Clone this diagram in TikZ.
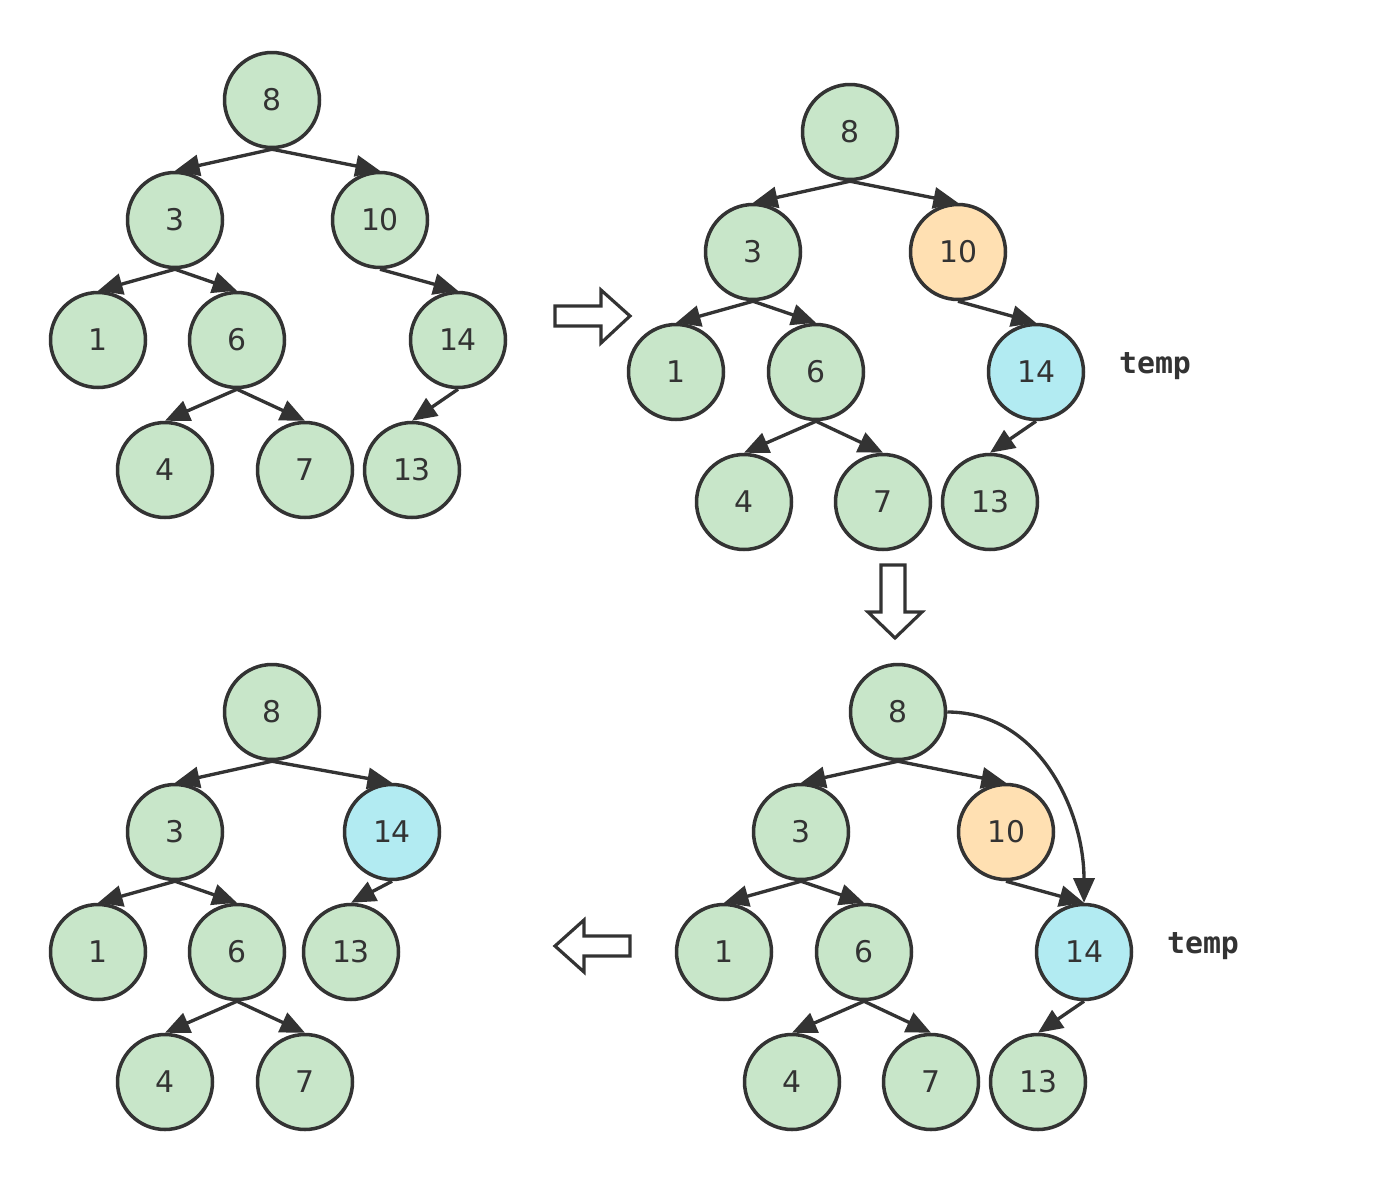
\documentclass[tikz,border=0pt]{standalone}
\usepackage{fontspec}
\setmainfont{DejaVu Sans}
\setmonofont{DejaVu Sans Mono}
\usetikzlibrary{arrows.meta}

\definecolor{nodegreen}{HTML}{C8E6C9}
\definecolor{nodeorange}{HTML}{FFE0B2}
\definecolor{nodecyan}{HTML}{B2EBF2}
\definecolor{inkgray}{HTML}{333333}

\tikzset{
  tnode/.style={circle, draw=inkgray, line width=2pt, fill=nodegreen,
    minimum size=1.9cm, inner sep=0pt, text=inkgray,
    font=\fontsize{17}{19}\selectfont},
  edge/.style={draw=inkgray, line width=1.9pt,
    -{Triangle[length=14pt, width=12pt]}},
  blockarrow/.style={draw=inkgray, line width=1.8pt, fill=white, line join=miter},
  templabel/.style={text=inkgray, font=\ttfamily\bfseries\fontsize{17}{20}\selectfont}
}

\begin{document}
\begin{tikzpicture}[x=0.02cm, y=-0.02cm]
\useasboundingbox (0,0) rectangle (1373,1180);

% Tree 1: starting tree
\foreach \n/\x/\y/\c in {8/272/100/nodegreen, 3/175/220/nodegreen, 10/380/220/nodegreen,
    1/98/340/nodegreen, 6/237/340/nodegreen, 14/458/340/nodegreen,
    4/165/470/nodegreen, 7/305/470/nodegreen, 13/412/470/nodegreen} {
    \node[tnode, fill=\c] (a\n) at (\x,\y) {\n};
}
\foreach \p/\q in {8/3, 8/10, 3/1, 3/6, 6/4, 6/7, 10/14, 14/13} {
    \draw[edge] (a\p.south) -- (a\q.north);
}

% Tree 2: find successor
\foreach \n/\x/\y/\c in {8/850/132/nodegreen, 3/753/252/nodegreen, 10/958/252/nodeorange,
    1/676/372/nodegreen, 6/816/372/nodegreen, 14/1036/372/nodecyan,
    4/744/502/nodegreen, 7/883/502/nodegreen, 13/990/502/nodegreen} {
    \node[tnode, fill=\c] (b\n) at (\x,\y) {\n};
}
\foreach \p/\q in {8/3, 8/10, 3/1, 3/6, 6/4, 6/7, 10/14, 14/13} {
    \draw[edge] (b\p.south) -- (b\q.north);
}
\node[templabel] (btemp) at (1155,366) {temp};

% Tree 3: relink parent
\foreach \n/\x/\y/\c in {8/898/712/nodegreen, 3/801/832/nodegreen, 10/1006/832/nodeorange,
    1/724/952/nodegreen, 6/864/952/nodegreen, 14/1084/952/nodecyan,
    4/792/1082/nodegreen, 7/931/1082/nodegreen, 13/1038/1082/nodegreen} {
    \node[tnode, fill=\c] (c\n) at (\x,\y) {\n};
}
\foreach \p/\q in {8/3, 8/10, 3/1, 3/6, 6/4, 6/7, 10/14, 14/13} {
    \draw[edge] (c\p.south) -- (c\q.north);
}
\draw[edge] (c8.east) to[out=0, in=90] (c14.north);
\node[templabel] (ctemp) at (1203,946) {temp};

% Tree 4: result
\foreach \n/\x/\y/\c in {8/272/712/nodegreen, 3/175/832/nodegreen, 14/392/832/nodecyan,
    1/98/952/nodegreen, 6/237/952/nodegreen, 13/351/952/nodegreen,
    4/165/1082/nodegreen, 7/305/1082/nodegreen} {
    \node[tnode, fill=\c] (d\n) at (\x,\y) {\n};
}
\foreach \p/\q in {8/3, 8/14, 3/1, 3/6, 6/4, 6/7, 14/13} {
    \draw[edge] (d\p.south) -- (d\q.north);
}

% block arrows between steps
\draw[blockarrow] (555,306) -- (601,306) -- (601,290) -- (630,316) -- (601,343)
    -- (601,326) -- (555,326) -- cycle;
\draw[blockarrow] (881,565) -- (905,565) -- (905,612) -- (922,612) -- (895,638)
    -- (868,612) -- (881,612) -- cycle;
\draw[blockarrow] (630,936) -- (584,936) -- (584,920) -- (555,946) -- (584,972)
    -- (584,956) -- (630,956) -- cycle;
\end{tikzpicture}
\end{document}
